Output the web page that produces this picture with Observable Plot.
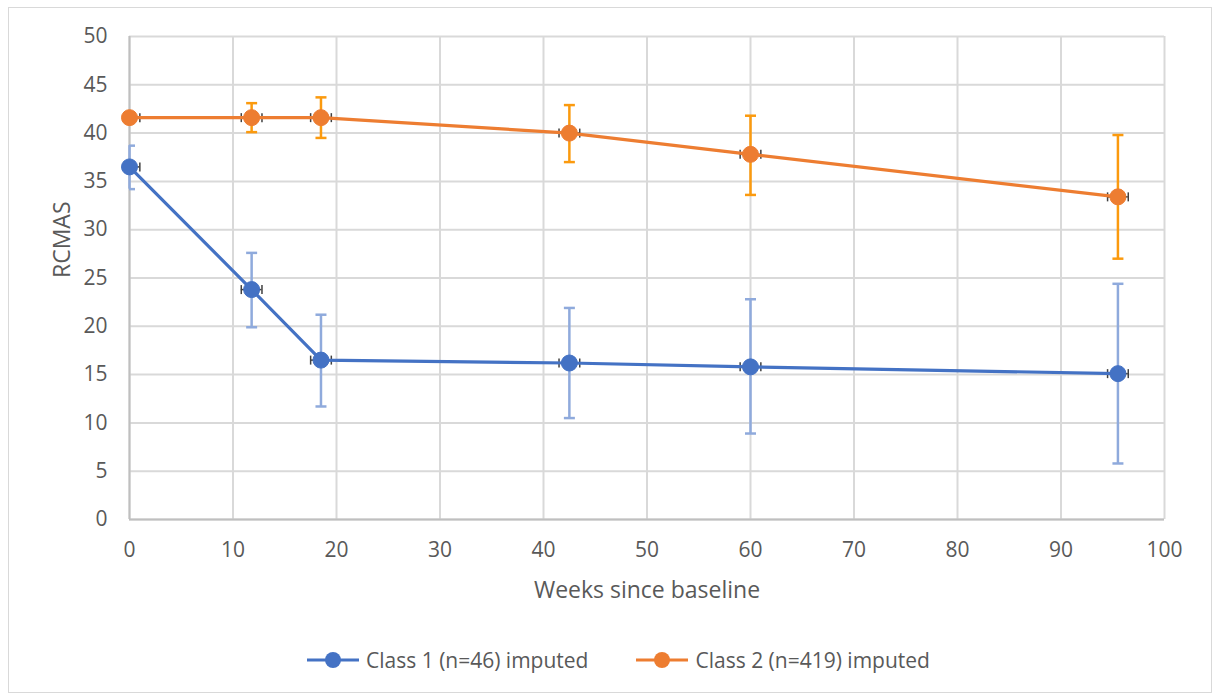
<!DOCTYPE html>
<html><head><meta charset="utf-8">
<script src="https://cdn.jsdelivr.net/npm/d3@7"></script>
<script src="https://cdn.jsdelivr.net/npm/@observablehq/plot@0.6"></script>
<style>
html,body{margin:0;padding:0;background:#fff;}
body{width:1218px;height:695px;position:relative;overflow:hidden;font-family:"Open Sans",sans-serif;color:#595959;}
#frame{position:absolute;left:8px;top:7px;width:1204px;height:686px;border:1.5px solid #D9D9D9;box-sizing:border-box;}
#chart{position:absolute;left:0;top:0;}
#legend{position:absolute;top:645px;left:305px;height:30px;display:flex;align-items:center;font-size:21px;color:#595959;white-space:nowrap;}
.item{display:flex;align-items:center;margin-right:46px;}
.item svg{margin-right:5px;}
</style>
</head><body>
<div id="frame"></div>
<div id="chart"></div>
<div id="legend"></div>
<script>
// ---- data ----
const weeks = [0, 11.8, 18.5, 42.5, 60, 95.5];
const weekErr = [1, 1, 1, 1, 1, 1];
const class1Mean = [36.5, 23.8, 16.5, 16.2, 15.8, 15.1];
const class1Lo   = [34.2, 19.9, 11.7, 10.5, 8.9, 5.8];
const class1Hi   = [38.7, 27.6, 21.2, 21.9, 22.8, 24.4];
const class2Mean = [41.6, 41.6, 41.6, 40.0, 37.8, 33.4];
const class2Lo   = [null, 40.1, 39.5, 37.0, 33.6, 27.0];
const class2Hi   = [null, 43.1, 43.7, 42.9, 41.8, 39.8];
const seriesNames = ["Class 1 (n=46) imputed", "Class 2 (n=419) imputed"];
const xTicks = [0, 10, 20, 30, 40, 50, 60, 70, 80, 90, 100];
const yTicks = [0, 5, 10, 15, 20, 25, 30, 35, 40, 45, 50];
const xTitle = "Weeks since baseline";
const yTitle = "RCMAS";

const lineColors = ["#4472C4", "#ED7D31"];
const errColors = ["#8FAADC", "#FB9A0E"];

function rows(mean, lo, hi) {
  return weeks.map((w, i) => ({week: w, mean: mean[i], lo: lo[i], hi: hi[i], wlo: w - weekErr[i], whi: w + weekErr[i]}));
}
const table = [rows(class1Mean, class1Lo, class1Hi), rows(class2Mean, class2Lo, class2Hi)];

const hcap = {draw(ctx, size) { const r = Math.sqrt(size / Math.PI); ctx.moveTo(-r, 0); ctx.lineTo(r, 0); }};
const vcap = {draw(ctx, size) { const r = Math.sqrt(size / Math.PI); ctx.moveTo(0, -r); ctx.lineTo(0, r); }};

const seriesMarks = table.flatMap((data, s) => {
  const withErr = data.filter(d => d.lo != null);
  return [
    Plot.ruleX(withErr, {x: "week", y1: "lo", y2: "hi", stroke: errColors[s], strokeWidth: 2.5}),
    Plot.dot(withErr, {x: "week", y: "hi", symbol: hcap, r: 5.5, stroke: errColors[s], strokeWidth: 2.5, clip: true}),
    Plot.dot(withErr, {x: "week", y: "lo", symbol: hcap, r: 5.5, stroke: errColors[s], strokeWidth: 2.5, clip: true}),
    Plot.ruleY(data, {y: "mean", x1: "wlo", x2: "whi", stroke: "#404040", strokeWidth: 1.5, clip: true}),
    Plot.dot(data, {x: "wlo", y: "mean", symbol: vcap, r: 4.5, stroke: "#404040", strokeWidth: 1.5, clip: true}),
    Plot.dot(data, {x: "whi", y: "mean", symbol: vcap, r: 4.5, stroke: "#404040", strokeWidth: 1.5, clip: true}),
    Plot.line(data, {x: "week", y: "mean", stroke: lineColors[s], strokeWidth: 3.2}),
    Plot.dot(data, {x: "week", y: "mean", r: 8, fill: lineColors[s], stroke: lineColors[s], strokeWidth: 1})
  ];
});

const chart = Plot.plot({
  width: 1218,
  height: 625,
  marginLeft: 129,
  marginRight: 54,
  marginTop: 36,
  marginBottom: 106,
  style: {fontFamily: "Open Sans, sans-serif", fontSize: "21px", color: "#595959", background: "transparent"},
  x: {domain: [0, 100], label: null},
  y: {domain: [0, 50], label: null},
  marks: [
    Plot.gridX(xTicks, {stroke: "#D9D9D9", strokeOpacity: 1, strokeWidth: 2}),
    Plot.gridY(yTicks, {stroke: "#D9D9D9", strokeOpacity: 1, strokeWidth: 2}),
    Plot.ruleX([0], {stroke: "#BFBFBF", strokeWidth: 2}),
    Plot.ruleY([0], {stroke: "#BFBFBF", strokeWidth: 2}),
    Plot.axisX(xTicks, {tickSize: 0, tickPadding: 23, fontSize: 21, fill: "#595959"}),
    Plot.axisY(yTicks, {tickSize: 0, tickPadding: 22, fontSize: 21, fill: "#595959"}),
    Plot.text([xTitle], {frameAnchor: "bottom", lineAnchor: "middle", dy: 71, fontSize: 23, fill: "#595959"}),
    Plot.text([yTitle], {frameAnchor: "left", lineAnchor: "middle", dx: -67, rotate: -90, fontSize: 23, fill: "#595959"}),
    ...seriesMarks
  ]
});
document.getElementById("chart").appendChild(chart);

// legend
const legend = document.getElementById("legend");
seriesNames.forEach((name, s) => {
  const item = document.createElement("div");
  item.className = "item";
  item.innerHTML = `<svg width="56" height="20"><line x1="2" y1="10" x2="54" y2="10" stroke="${lineColors[s]}" stroke-width="3.2"/><circle cx="28" cy="10" r="8" fill="${lineColors[s]}"/></svg><span>${name}</span>`;
  legend.appendChild(item);
});
</script>
</body></html>
